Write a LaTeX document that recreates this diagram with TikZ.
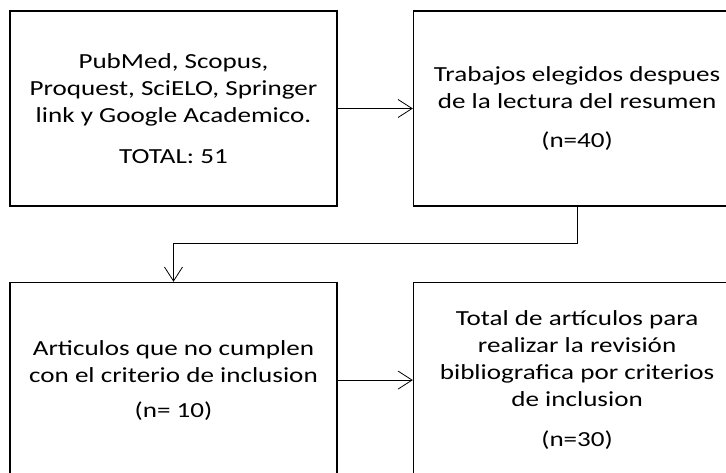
\documentclass[tikz,border=0pt]{standalone}
\usepackage{fontspec}
\setmainfont{Carlito}[FakeStretch=1.26]
\usetikzlibrary{positioning,arrows.meta}

\tikzset{
		stepnode/.style = {shape=rectangle, draw, line width=1.6pt,
				align=center, inner sep=0pt,
				minimum width=327pt, minimum height=195pt,
				font=\fontsize{21.5}{27}\selectfont},
		link/.style     = {line width=0.8pt,
				-{Straight Barb[length=14pt,width=18pt]}}
	}

\begin{document}
\begin{tikzpicture}[x=1pt,y=1pt]
	\useasboundingbox (0,0) rectangle (726,472);
	\clip (0,0) rectangle (726,472);
	\node [stepnode] (search) at (173.5,363.5)
		{PubMed, Scopus,\\Proquest, SciELO, Springer\\link y Google Academico.\\[14pt]TOTAL: 51};
	\node [stepnode, right=75pt of search] (chosen)
		{Trabajos elegidos despues\\de la lectura del resumen\\[12pt](n=40)};
	\node [stepnode, below=75pt of search] (excluded)
		{Articulos que no cumplen\\con el criterio de inclusion\\[8pt](n= 10)};
	\node [stepnode, right=75pt of excluded] (final)
		{Total de artículos para\\realizar la revisión\\bibliografica por criterios\\de inclusion\\[13pt](n=30)};
	\draw [link] (search) -- (chosen);
	\draw [link] (chosen.south) -- ++(0,-37pt) -| (excluded.north);
	\draw [link] (excluded) -- (final);
\end{tikzpicture}
\end{document}
